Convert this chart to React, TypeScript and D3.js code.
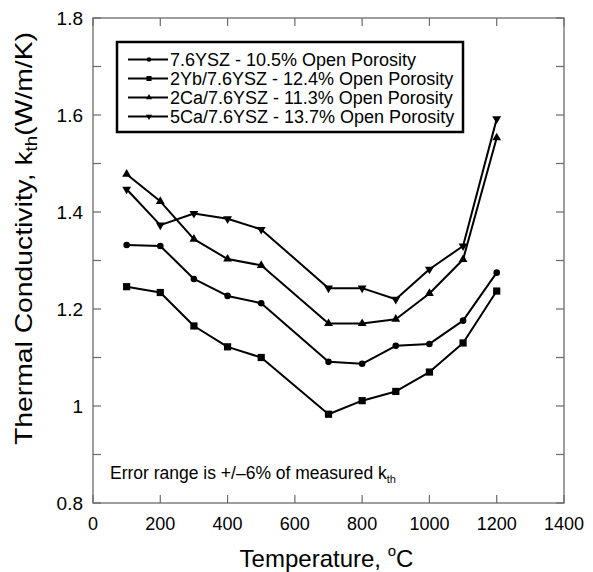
import React from "react";
import * as d3 from "d3";

const temps = [100, 200, 300, 400, 500, 700, 800, 900, 1000, 1100, 1200];
const ysz = [1.332, 1.330, 1.262, 1.227, 1.212, 1.091, 1.087, 1.124, 1.128, 1.176, 1.275];
const ybYsz = [1.246, 1.234, 1.165, 1.122, 1.100, 0.983, 1.011, 1.030, 1.070, 1.130, 1.237];
const ca2Ysz = [1.478, 1.422, 1.344, 1.303, 1.290, 1.170, 1.170, 1.179, 1.232, 1.302, 1.553];
const ca5Ysz = [1.447, 1.373, 1.397, 1.386, 1.364, 1.243, 1.243, 1.220, 1.282, 1.330, 1.592];

const seriesLabels = [
  "7.6YSZ - 10.5% Open Porosity",
  "2Yb/7.6YSZ - 12.4% Open Porosity",
  "2Ca/7.6YSZ - 11.3% Open Porosity",
  "5Ca/7.6YSZ - 13.7% Open Porosity",
];
const seriesValues = [ysz, ybYsz, ca2Ysz, ca5Ysz];
const seriesMarkers = ["circle", "square", "triangleUp", "triangleDown"];

const xTicks = [0, 200, 400, 600, 800, 1000, 1200, 1400];
const yMinorTicks = [0.8, 0.9, 1.0, 1.1, 1.2, 1.3, 1.4, 1.5, 1.6, 1.7, 1.8];
const yLabelTicks = [0.8, 1.0, 1.2, 1.4, 1.6, 1.8];
const yTickLabels = ["0.8", "1", "1.2", "1.4", "1.6", "1.8"];

const FONT = "Arial, 'Liberation Sans', Helvetica, sans-serif";

function markerPath(kind: string, big: boolean) {
  const s = big ? 1 : 0.7;
  if (kind === "circle") return d3.symbol(d3.symbolCircle, 34 * s * s)()!;
  if (kind === "square") return d3.symbol(d3.symbolSquare, 52 * s * s)()!;
  return d3.symbol(d3.symbolTriangle, 34 * s * s)()!;
}

export default function App() {
  const L = 93, R = 564, T = 18, B = 503;
  const x = d3.scaleLinear().domain([0, 1400]).range([L, R]);
  const y = d3.scaleLinear().domain([0.8, 1.8]).range([B, T]);
  const line = d3
    .line<[number, number]>()
    .x((d) => x(d[0]))
    .y((d) => y(d[1]));
  const frame = "#6a6a6a";
  const tl = 8;

  const legX = 117, legY = 42, legW = 346, legH = 90;

  return (
    <svg
      width={593}
      height={572}
      style={{ position: "absolute", left: 0, top: 0, background: "#fff" }}
      fontFamily={FONT}
    >
      <rect x={0} y={0} width={593} height={572} fill="#fff" />
      {/* frame */}
      <rect x={L} y={T} width={R - L} height={B - T} fill="none" stroke={frame} strokeWidth={1.3} />
      {xTicks.map((t) => (
        <g key={"xt" + t}>
          <line x1={x(t)} x2={x(t)} y1={B} y2={B - tl} stroke={frame} strokeWidth={1.2} />
          <line x1={x(t)} x2={x(t)} y1={T} y2={T + tl} stroke={frame} strokeWidth={1.2} />
          <text x={x(t)} y={530} textAnchor="middle" fontSize={18} fill="#000">
            {t}
          </text>
        </g>
      ))}
      {yMinorTicks.map((t) => (
        <g key={"yt" + t}>
          <line x1={L} x2={L + tl} y1={y(t)} y2={y(t)} stroke={frame} strokeWidth={1.2} />
          <line x1={R} x2={R - tl} y1={y(t)} y2={y(t)} stroke={frame} strokeWidth={1.2} />
        </g>
      ))}
      {yLabelTicks.map((t, i) => (
        <text key={"yl" + t} x={83} y={y(t) + 6.5} textAnchor="end" fontSize={19} fill="#000">
          {yTickLabels[i]}
        </text>
      ))}

      {/* series */}
      {seriesValues.map((vals, si) => {
        const pts: [number, number][] = temps.map((t, i) => [t, vals[i]]);
        const kind = seriesMarkers[si];
        return (
          <g key={"s" + si}>
            <path d={line(pts)!} fill="none" stroke="#000" strokeWidth={2} strokeLinejoin="round" />
            {pts.map((p, i) => (
              <path
                key={i}
                d={markerPath(kind, true)}
                transform={`translate(${x(p[0])},${y(p[1])})${kind === "triangleDown" ? " rotate(180)" : ""}`}
                fill="#000"
              />
            ))}
          </g>
        );
      })}

      {/* legend */}
      <rect x={legX} y={legY} width={legW} height={legH} fill="#fff" stroke="#000" strokeWidth={2.5} />
      {seriesLabels.map((lab, i) => {
        const cy = 59.5 + i * 19;
        const kind = seriesMarkers[i];
        return (
          <g key={"lg" + i}>
            <line x1={128} x2={168} y1={cy} y2={cy} stroke="#000" strokeWidth={2} />
            <path
              d={markerPath(kind, false)}
              transform={`translate(149,${cy})${kind === "triangleDown" ? " rotate(180)" : ""}`}
              fill="#000"
            />
            <text x={170} y={cy + 6.5} fontSize={18} fill="#000">
              {lab}
            </text>
          </g>
        );
      })}

      {/* annotation */}
      <text x={110} y={479} fontSize={17.5} fill="#000">
        Error range is +/–6% of measured k
        <tspan fontSize={11} dy={4}>th</tspan>
      </text>

      {/* axis titles */}
      <text x={(L + R) / 2 - 2} y={567} textAnchor="middle" fontSize={24} fill="#000">
        Temperature,{" "}
        <tspan fontSize={15} dy={-11}>o</tspan>
        <tspan dy={11}>C</tspan>
      </text>
      <text
        transform={`translate(32,${(445 + 32) / 2}) rotate(-90)`}
        textAnchor="middle"
        fontSize={24}
        fill="#000"
        textLength={413}
        lengthAdjust="spacingAndGlyphs"
      >
        Thermal Conductivity, k
        <tspan fontSize={16} dy={5}>th</tspan>
        <tspan dy={-5}>(W/m/K)</tspan>
      </text>
    </svg>
  );
}
